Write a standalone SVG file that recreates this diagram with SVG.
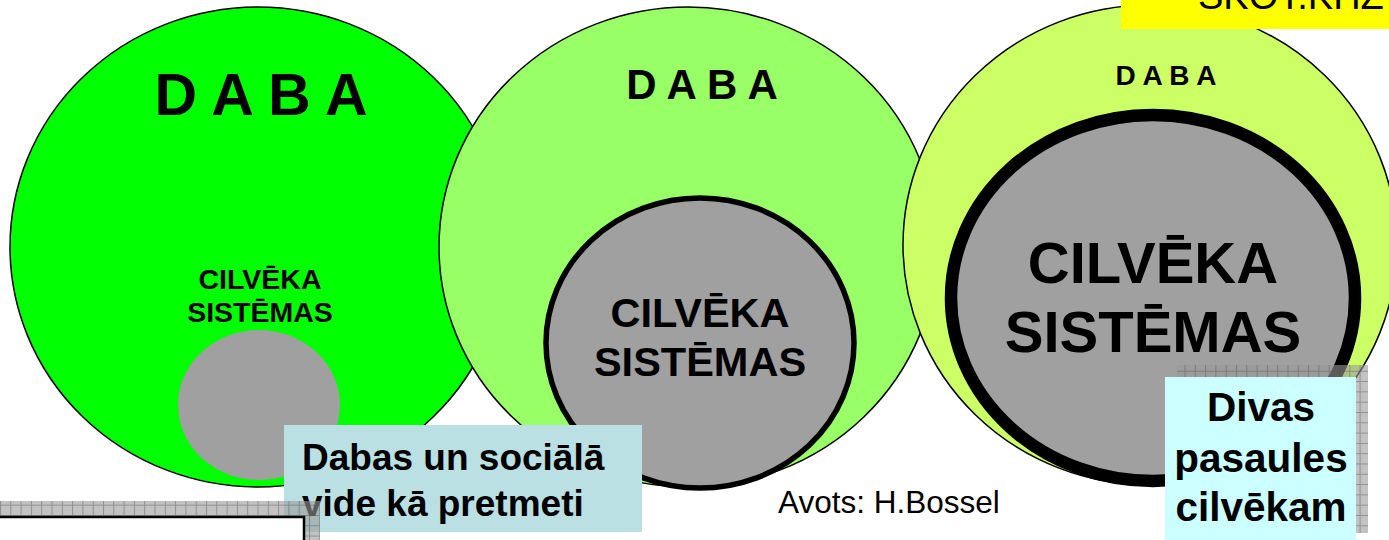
<svg xmlns="http://www.w3.org/2000/svg" width="1389" height="540" viewBox="0 0 1389 540">
<style>
.b{font-family:"Liberation Sans",Arial,sans-serif;font-weight:bold;fill:#000;text-anchor:middle}
.r{font-family:"Liberation Sans",Arial,sans-serif;fill:#000}
.outer{stroke:#000;stroke-width:1.5}
.gray{fill:#A0A0A0}
</style>
<defs>
<pattern id="hatch" width="10.3" height="10.3" patternUnits="userSpaceOnUse">
<rect width="10.3" height="10.3" fill="#9A9A9A" fill-opacity="0.6"/>
<path d="M0 0.5H10.3M0.5 0V10.3" stroke="#505050" stroke-opacity="0.45" stroke-width="1"/>
</pattern>
</defs>
<rect width="1389" height="540" fill="#fff"/>
<g id="nature1">
<ellipse class="outer" cx="258" cy="247" rx="248" ry="240" fill="#00FF00"/>
<text class="b" x="261" y="115" font-size="59">D A B A</text>
</g>
<g id="human1">
<ellipse class="gray" cx="259" cy="405" rx="81" ry="75"/>
<text class="b" x="260" y="289" font-size="28.5">CILVĒKA</text>
<text class="b" x="260" y="322" font-size="28.5">SISTĒMAS</text>
</g>
<g id="nature2">
<ellipse class="outer" cx="688" cy="247" rx="249" ry="240" fill="#99FF66"/>
<text class="b" x="702" y="99" font-size="42">D A B A</text>
</g>
<g id="human2">
<ellipse class="gray" cx="700" cy="343" rx="154" ry="145" stroke="#000" stroke-width="5.5"/>
<text class="b" x="700" y="327" font-size="41.5">CILVĒKA</text>
<text class="b" x="700" y="376" font-size="41.5">SISTĒMAS</text>
</g>
<g id="nature3">
<ellipse class="outer" cx="1150" cy="245" rx="247" ry="240" fill="#CCFF66"/>
<text class="b" x="1166" y="85" font-size="28">D A B A</text>
</g>
<g id="human3">
<ellipse class="gray" cx="1153" cy="298" rx="202" ry="183" stroke="#000" stroke-width="12.5"/>
<text class="b" x="1153" y="283" font-size="58">CILVĒKA</text>
<text class="b" x="1153" y="352" font-size="58">SISTĒMAS</text>
</g>
<g id="label-yellow">
<rect x="1121" y="0" width="268" height="29" fill="#FFFF00"/>
<text class="r" x="1198" y="9" font-size="38">SKOT.KHZ</text>
</g>
<g id="label-opposites">
<rect x="284" y="425" width="358" height="107" fill="#BBE0E3"/>
<text class="b" x="302" y="470" font-size="37" style="text-anchor:start">Dabas un sociālā</text>
<text class="b" x="302" y="516" font-size="37" style="text-anchor:start">vide kā pretmeti</text>
</g>
<g id="box-bottomleft">
<rect x="0" y="501" width="320" height="39" fill="url(#hatch)"/>
<rect x="-2" y="517" width="306" height="30" fill="#fff" stroke="#000" stroke-width="2.5"/>
</g>
<g id="label-source">
<text class="r" x="778" y="513" font-size="31.5">Avots: H.Bossel</text>
</g>
<g id="label-two-worlds">
<rect x="1177" y="365" width="191" height="168" fill="url(#hatch)"/>
<rect x="1165" y="377" width="191" height="170" fill="#CCFFFF"/>
<text class="b" x="1261" y="421" font-size="40.5">Divas</text>
<text class="b" x="1261" y="472" font-size="40.5">pasaules</text>
<text class="b" x="1261" y="521" font-size="40.5">cilvēkam</text>
</g>
<g id="connectors"/>
</svg>
